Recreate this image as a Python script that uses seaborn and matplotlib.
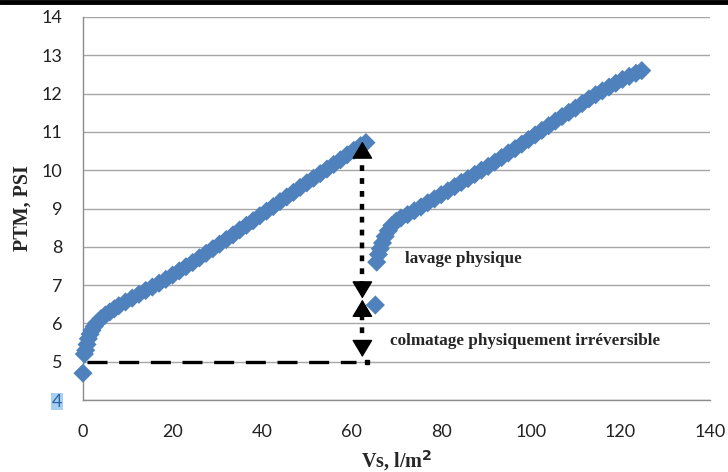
import numpy as np
import pandas as pd
import seaborn as sns
import matplotlib.pyplot as plt
from matplotlib.lines import Line2D

# serie 1 : avant lavage physique
vs_1 = [0, 0.3, 0.6, 0.9, 1.2, 1.6, 2.0, 2.5, 3, 4, 5, 6, 7, 8, 9.5, 11, 12.5, 14,
        15.5, 17, 18.5, 20, 21.5, 23, 24.5, 26, 27.5, 29, 30.5, 32, 33.5, 35, 36.5,
        38, 39.5, 41, 42.5, 44, 45.5, 47, 48.5, 50, 51.5, 53, 54.5, 56, 57.5, 59,
        60.5, 62, 63.2]
ptm_1 = [4.7, 5.2, 5.3, 5.45, 5.6, 5.72, 5.82, 5.92, 6.0, 6.12, 6.22, 6.3, 6.38,
         6.46, 6.56, 6.66, 6.76, 6.86, 6.95, 7.05, 7.15, 7.26, 7.37, 7.48, 7.59,
         7.71, 7.83, 7.95, 8.07, 8.19, 8.31, 8.44, 8.56, 8.68, 8.81, 8.93, 9.05,
         9.18, 9.3, 9.42, 9.55, 9.67, 9.79, 9.91, 10.03, 10.15, 10.27, 10.4, 10.52,
         10.64, 10.72]

# serie 2 : apres lavage physique
vs_2 = [65.3, 65.6, 66.0, 66.4, 66.9, 67.5, 68.2, 69, 70, 71, 72.5, 74, 75.5, 77,
        78.5, 80, 81.5, 83, 84.5, 86, 87.5, 89, 90.5, 92, 93.5, 95, 96.5, 98, 99.5,
        101, 102.5, 104, 105.5, 107, 108.5, 110, 111.5, 113, 114.5, 116, 117.5,
        119, 120.5, 122, 123.5, 124.8]
ptm_2 = [6.48, 7.6, 7.8, 7.95, 8.1, 8.27, 8.42, 8.56, 8.67, 8.75, 8.84, 8.94, 9.04,
         9.15, 9.25, 9.36, 9.46, 9.57, 9.68, 9.78, 9.89, 10.0, 10.1, 10.21, 10.33,
         10.45, 10.56, 10.68, 10.8, 10.92, 11.04, 11.16, 11.28, 11.4, 11.51, 11.62,
         11.74, 11.86, 11.97, 12.07, 12.17, 12.27, 12.37, 12.45, 12.53, 12.6]

x_ticks = [0, 20, 40, 60, 80, 100, 120, 140]
y_ticks = [4, 5, 6, 7, 8, 9, 10, 11, 12, 13, 14]

df = pd.DataFrame({
    'vs': vs_1 + vs_2,
    'ptm': ptm_1 + ptm_2,
    'serie': ['avant'] * len(vs_1) + ['apres'] * len(vs_2),
})

sns.set_style('white')
plt.rcParams['font.family'] = ['Lato', 'DejaVu Sans']

fig = plt.figure(figsize=(7.28, 4.72), dpi=100)
ax = fig.add_axes([0.114, 0.1525, 0.861, 0.8115])

sns.scatterplot(data=df, x='vs', y='ptm', hue='serie',
                palette={'avant': '#4F81BD', 'apres': '#4F81BD'},
                marker='D', s=95, linewidth=0, legend=False, ax=ax, zorder=3,
                clip_on=False)

ax.set_xlim(0, 140)
ax.set_ylim(4, 14)
ax.set_xticks(x_ticks)
ax.set_yticks(y_ticks)
ax.set_xticklabels([str(v) for v in x_ticks])
ax.set_yticklabels([str(v) for v in y_ticks])
ax.grid(axis='y', color='#A6A6A6', linewidth=1.0)
ax.grid(axis='x', visible=False)
for side in ['top', 'right']:
    ax.spines[side].set_visible(False)
for side in ['left', 'bottom']:
    ax.spines[side].set_color('#8C8C8C')
    ax.spines[side].set_linewidth(1.0)
ax.tick_params(axis='both', direction='out', length=5, width=1, color='#8C8C8C',
               labelsize=13, labelcolor='#222222', pad=10)
ax.tick_params(axis='x', pad=12)

# "4" surligne
lbl4 = ax.get_yticklabels()[0]
lbl4.set_color('#2C62A5')
lbl4.set_bbox(dict(facecolor='#A7CFF2', edgecolor='none', pad=0.6))

serif = ['Liberation Serif', 'DejaVu Serif']
ax.set_xlabel('Vs, l/m$^\\mathbf{2}$', family=serif, fontweight='bold', fontsize=14.5,
              labelpad=6)
ax.set_ylabel('PTM, PSI', family=serif, fontweight='bold', fontsize=14.5,
              labelpad=6)

# ligne horizontale tiretee a 5 PSI
ax.plot([1.0, 61.0], [5, 5], color='black', linewidth=2.4, solid_capstyle='butt',
        dash_capstyle='butt', linestyle=(0, (6, 3.5)), zorder=4)
ax.plot([63.5], [4.98], marker='s', markersize=2.5, color='black', zorder=4)

# fleches doubles : tige pointillee + pointes pleines
x_arrow = 62.4
head_kw = dict(arrowstyle='-|>,head_length=0.5,head_width=0.3', color='black',
               linewidth=1, mutation_scale=22, shrinkA=0, shrinkB=0)
for y_bas, y_haut in [(6.65, 10.75), (5.12, 6.62)]:
    ax.plot([x_arrow, x_arrow], [y_bas + 0.3, y_haut - 0.3], color='black',
            linewidth=3.2, linestyle=(0, (1.3, 1.6)), dash_capstyle='butt', zorder=5)
    ax.annotate('', xy=(x_arrow, y_haut), xytext=(x_arrow, y_haut - 0.25),
                arrowprops=head_kw, zorder=5)
    ax.annotate('', xy=(x_arrow, y_bas), xytext=(x_arrow, y_bas + 0.25),
                arrowprops=head_kw, zorder=5)

ax.text(71.9, 7.68, 'lavage physique', family=serif, fontweight='bold',
        fontsize=12.3, va='center', ha='left')
ax.text(68.5, 5.54, 'colmatage physiquement irréversible', family=serif,
        fontweight='bold', fontsize=12.3, va='center', ha='left')

# barre noire en haut
fig.add_artist(Line2D([0, 1], [0.996, 0.996], color='black', linewidth=3.5,
                      transform=fig.transFigure))

fig.savefig('out.png', dpi=100)
